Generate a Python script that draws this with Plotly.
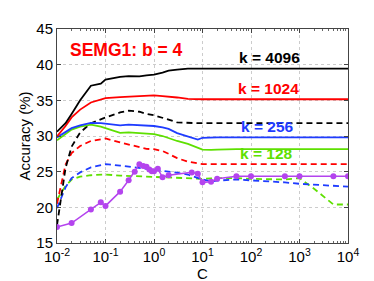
import plotly.graph_objects as go

# C grid for the curves
C_LINE = [0.01, 0.015, 0.02, 0.03, 0.05, 0.08, 0.1, 0.2, 0.3, 0.5, 0.7, 1, 1.5, 2, 3, 5, 8,
          10, 15, 20, 50, 100, 500, 1000, 2000, 5000, 10000]

k4096_solid = [30.6, 31.8, 33.1, 35.0, 37.05, 37.35, 37.9, 38.3, 38.4, 38.35, 38.5, 38.6, 38.9,
               39.15, 39.3, 39.45, 39.45, 39.45, 39.45, 39.45, 39.45, 39.45, 39.45, 39.45, 39.45,
               39.45, 39.45]
k1024_solid = [29.95, 31.4, 32.6, 33.7, 34.7, 35.1, 35.3, 35.45, 35.5, 35.65, 35.6, 35.7, 35.6,
               35.55, 35.4, 35.2, 35.1, 35.15, 35.15, 35.15, 35.15, 35.15, 35.15, 35.15, 35.15,
               35.15, 35.15]
k4096_dash = [17.5, 25.5, 28.5, 30.5, 31.8, 32.4, 32.6, 33.3, 33.55, 33.4, 33.1, 32.9, 32.6,
              32.3, 31.9, 31.8, 31.8, 31.8, 31.8, 31.8, 31.8, 31.8, 31.8, 31.8, 31.8, 31.8, 31.8]
k256_solid = [29.8, 30.6, 31.1, 31.5, 31.85, 31.8, 31.75, 31.5, 31.6, 31.55, 31.5, 31.4, 31.2,
              31.0, 30.4, 29.9, 29.5, 29.75, 29.8, 29.8, 29.8, 29.8, 29.8, 29.8, 29.8, 29.8, 29.8]
k128_solid = [29.4, 30.3, 30.9, 31.3, 31.6, 31.3, 31.1, 30.45, 30.5, 30.35, 30.3, 30.25, 30.0,
              29.7, 29.3, 28.9, 28.4, 28.1, 28.05, 28.1, 28.15, 28.15, 28.15, 28.15, 28.15,
              28.15, 28.15]
k1024_dash = [20.5, 26.0, 27.6, 28.6, 29.3, 29.6, 29.65, 29.1, 28.8, 28.5, 28.2, 28.15, 27.9,
              27.5, 26.9, 26.4, 26.1, 26.05, 26.05, 26.05, 26.05, 26.05, 26.05, 26.05, 26.05,
              26.05, 26.05]
k256_dash = [19.9, 22.8, 24.1, 24.9, 25.6, 25.9, 26.05, 25.85, 25.7, 25.5, 25.4, 25.3, 25.15,
             25.05, 24.85, 24.6, 24.1, 23.9, 23.65, 23.75, 23.9, 23.8, 23.5, 23.3, 23.2, 23.05,
             22.9]
k128_dash = [21.1, 23.0, 23.9, 24.3, 24.5, 24.6, 24.6, 24.45, 24.4, 24.35, 24.3, 24.25, 24.25,
             24.25, 24.2, 24.1, 24.0, 24.0, 24.05, 24.1, 24.1, 24.0, 23.9, 24.1, 22.6, 20.4, 20.4]

# magenta marker series
C_MARK = [0.01, 0.02, 0.05, 0.08, 0.1, 0.2, 0.3, 0.4, 0.5, 0.6, 0.7, 0.8, 0.9, 1, 1.2, 1.5, 2,
          6, 8, 10, 15, 20, 50, 100, 500, 1000, 5000, 10000]
mark_vals = [17.25, 17.8, 19.7, 20.7, 20.2, 22.2, 23.8, 25.0, 26.05, 25.8, 25.7, 25.3, 25.05,
             25.05, 25.4, 24.2, 24.5, 24.9, 24.7, 23.5, 23.6, 24.0, 24.35, 24.35, 24.35, 24.35,
             24.35, 24.35]

# x tick labels
X_TICKS = [0.01, 0.1, 1, 10, 100, 1000, 10000]
X_TICK_TEXT = ["10<sup>-2</sup>", "10<sup>-1</sup>", "10<sup>0</sup>", "10<sup>1</sup>",
               "10<sup>2</sup>", "10<sup>3</sup>", "10<sup>4</sup>"]

BLACK = "#000000"
RED = "#ff0000"
BLUE = "#1f3cff"
GREEN = "#5ee000"
MAGENTA = "#b444ee"
DASH = "6px,4px"

series = [
    (k128_dash, GREEN, DASH),
    (k256_dash, BLUE, DASH),
    (k1024_dash, RED, DASH),
    (k4096_dash, BLACK, DASH),
    (k128_solid, GREEN, "solid"),
    (k256_solid, BLUE, "solid"),
    (k1024_solid, RED, "solid"),
    (k4096_solid, BLACK, "solid"),
]

fig = go.Figure()
for vals, col, dash in series:
    fig.add_trace(go.Scatter(x=C_LINE, y=vals, mode="lines",
                             line=dict(color=col, width=1.8, dash=dash), showlegend=False))
fig.add_trace(go.Scatter(x=C_MARK, y=mark_vals, mode="lines+markers",
                         line=dict(color=MAGENTA, width=1.5),
                         marker=dict(color=MAGENTA, size=6), showlegend=False))

labels = [
    ("SEMG1: b = 4", -0.56, 42.1, RED, 17.5),
    ("k = 4096", 2.39, 41.0, BLACK, 15.5),
    ("k = 1024", 2.37, 36.6, RED, 15.5),
    ("k = 256", 2.33, 31.3, BLUE, 15.5),
    ("k = 128", 2.32, 27.5, GREEN, 15.5),
]
for txt, x, y, col, sz in labels:
    fig.add_annotation(x=x, y=y, xref="x", yref="y", text="<b>%s</b>" % txt,
                       showarrow=False, font=dict(color=col, size=sz,
                                                  family="Liberation Sans, Arial"))

fig.update_layout(
    width=374, height=281,
    margin=dict(l=49, r=34, t=21, b=46),
    paper_bgcolor="white", plot_bgcolor="white",
    font=dict(family="Liberation Sans, Arial", size=15, color="black"),
)
fig.update_xaxes(type="log", range=[-2, 4], tickvals=X_TICKS, ticktext=X_TICK_TEXT,
                 showline=True, linecolor="#444", linewidth=1, mirror="ticks",
                 ticks="inside", ticklen=4, tickcolor="#444",
                 showgrid=True, gridcolor="#cccccc", griddash="dot", gridwidth=1,
                 minor=dict(ticks="inside", ticklen=2, tickcolor="#666", showgrid=False,
                            dtick="D1"),
                 zeroline=False,
                 title=dict(text="C", standoff=0, font=dict(size=15)),
                 tickfont=dict(size=15))
fig.update_yaxes(range=[15, 45], dtick=5,
                 showline=True, linecolor="#444", linewidth=1, mirror="ticks",
                 ticks="inside", ticklen=4, tickcolor="#444",
                 showgrid=True, gridcolor="#cccccc", griddash="dot", gridwidth=1,
                 zeroline=False,
                 title=dict(text="Accuracy (%)", standoff=2, font=dict(size=15)),
                 tickfont=dict(size=15))

fig.write_html("out.html")
